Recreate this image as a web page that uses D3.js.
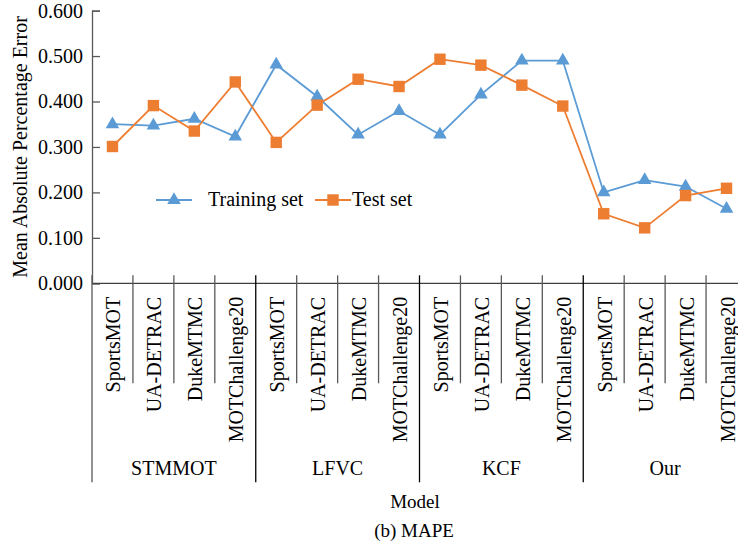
<!DOCTYPE html>
<html>
<head>
<meta charset="utf-8">
<script src="https://cdn.jsdelivr.net/npm/d3@7"></script>
<style>
  body { margin: 0; background: #fff; }
  svg text { font-family: "Liberation Serif", "Times New Roman", serif; fill: #000; }
</style>
</head>
<body>
<div id="chart"></div>
<script>
// ---- data ----
var models = ["STMMOT", "LFVC", "KCF", "Our"];
var datasets = ["SportsMOT", "UA-DETRAC", "DukeMTMC", "MOTChallenge20"];
var trainingSet = [0.350, 0.347, 0.362, 0.323,  0.481, 0.411, 0.327, 0.379,  0.327, 0.415, 0.490, 0.490,  0.200, 0.227, 0.213, 0.164];
var testSet     = [0.301, 0.391, 0.335, 0.443,  0.310, 0.392, 0.449, 0.433,  0.493, 0.480, 0.436, 0.390,  0.153, 0.122, 0.193, 0.209];
var yTicks = [0, 0.1, 0.2, 0.3, 0.4, 0.5, 0.6];

var blue = "#5b9bd5", orange = "#ed7d31";

// one entry per category on the x axis
var cats = [];
models.forEach(function(m, gi) {
    datasets.forEach(function(d, di) {
        cats.push({ id: m + "|" + d, model: m, dataset: d, idx: gi * 4 + di });
    });
});

var W = 738, H = 548;
var margin = { top: 10.6, left: 92 };
var width = 655, height = 272.7;

var svg = d3.select("#chart").append("svg")
    .attr("width", W)
    .attr("height", H);

var g = svg.append("g")
    .attr("transform", "translate(" + margin.left + "," + margin.top + ")");

var x = d3.scaleBand()
    .domain(cats.map(function(c) { return c.id; }))
    .range([0, width]);

var y = d3.scaleLinear()
    .domain([0, 0.6])
    .range([height, 0]);

// y axis, ticks pointing inward
var yAxis = d3.axisLeft(y)
    .tickValues(yTicks)
    .tickSize(-8)
    .tickPadding(9)
    .tickFormat(d3.format(".3f"));

var yG = g.append("g").attr("class", "y-axis").call(yAxis);
yG.select(".domain").attr("stroke", "#595959").attr("stroke-width", 1.3);
yG.selectAll(".tick line").attr("stroke", "#595959").attr("stroke-width", 1.3);
yG.selectAll(".tick text").attr("font-size", 20).style("font-family", "Liberation Serif");

// x axis line
g.append("line")
    .attr("x1", 0).attr("x2", W - margin.left)
    .attr("y1", height).attr("y2", height)
    .attr("stroke", "#404040").attr("stroke-width", 1.3);

// category separators
var bounds = d3.range(cats.length + 1);
g.selectAll(".sep").data(bounds).enter()
    .append("line")
    .attr("class", "sep")
    .attr("x1", function(i) { return i * x.bandwidth(); })
    .attr("x2", function(i) { return i * x.bandwidth(); })
    .attr("y1", height - 8)
    .attr("y2", function(i) { return i % 4 === 0 ? height + 199 : height + 100; })
    .attr("stroke", function(i) { return (i % 4 === 0 && i > 0) ? "#000" : "#595959"; })
    .attr("stroke-width", 1.3);

// dataset labels (rotated)
g.selectAll(".cat-label").data(cats).enter()
    .append("text")
    .attr("class", "cat-label")
    .attr("transform", function(c) {
        return "translate(" + (x(c.id) + x.bandwidth() / 2 + 1) + "," + (height + 13.5) + ") rotate(-90)";
    })
    .attr("text-anchor", "end")
    .attr("dy", "0.35em")
    .attr("font-size", 20)
    .text(function(c) { return c.dataset; });

// model labels
g.selectAll(".model-label").data(models).enter()
    .append("text")
    .attr("class", "model-label")
    .attr("x", function(m, i) { return (i * 4 + 2) * x.bandwidth(); })
    .attr("y", height + 192)
    .attr("text-anchor", "middle")
    .attr("font-size", 20)
    .text(function(m) { return m; });

// series
var line = d3.line()
    .x(function(d, i) { return x(cats[i].id) + x.bandwidth() / 2; })
    .y(function(d) { return y(d); });

g.append("path")
    .datum(trainingSet)
    .attr("fill", "none")
    .attr("stroke", blue)
    .attr("stroke-width", 1.8)
    .attr("d", line);

g.append("path")
    .datum(testSet)
    .attr("fill", "none")
    .attr("stroke", orange)
    .attr("stroke-width", 1.8)
    .attr("d", line);

var tri = d3.symbol().type(d3.symbolTriangle).size(80);
var sq = d3.symbol().type(d3.symbolSquare).size(130);

g.selectAll(".tri").data(trainingSet).enter()
    .append("path")
    .attr("class", "tri")
    .attr("d", tri)
    .attr("fill", blue)
    .attr("transform", function(d, i) {
        return "translate(" + (x(cats[i].id) + x.bandwidth() / 2) + "," + y(d) + ")";
    });

g.selectAll(".sq").data(testSet).enter()
    .append("path")
    .attr("class", "sq")
    .attr("d", sq)
    .attr("fill", orange)
    .attr("transform", function(d, i) {
        return "translate(" + (x(cats[i].id) + x.bandwidth() / 2) + "," + y(d) + ")";
    });

// legend
var legend = svg.append("g").attr("class", "legend");
var legendItems = [
    { name: "Training set", color: blue, sym: tri, x: 156, tx: 208 },
    { name: "Test set", color: orange, sym: sq, x: 315, tx: 352 }
];
legendItems.forEach(function(it) {
    legend.append("line")
        .attr("x1", it.x).attr("x2", it.x + 36)
        .attr("y1", 200).attr("y2", 200)
        .attr("stroke", it.color).attr("stroke-width", 1.8);
    legend.append("path")
        .attr("d", it.sym)
        .attr("fill", it.color)
        .attr("transform", "translate(" + (it.x + 18) + ",200)");
    legend.append("text")
        .attr("x", it.tx)
        .attr("y", 206)
        .attr("font-size", 20)
        .text(it.name);
});

// axis titles
svg.append("text")
    .attr("transform", "translate(26.5," + (margin.top + height / 2) + ") rotate(-90)")
    .attr("text-anchor", "middle")
    .attr("font-size", 20)
    .text("Mean Absolute Percentage Error");

svg.append("text")
    .attr("x", 415).attr("y", 508)
    .attr("text-anchor", "middle")
    .attr("font-size", 19)
    .text("Model");

svg.append("text")
    .attr("x", 414).attr("y", 537)
    .attr("text-anchor", "middle")
    .attr("font-size", 19)
    .text("(b) MAPE");
</script>
</body>
</html>
